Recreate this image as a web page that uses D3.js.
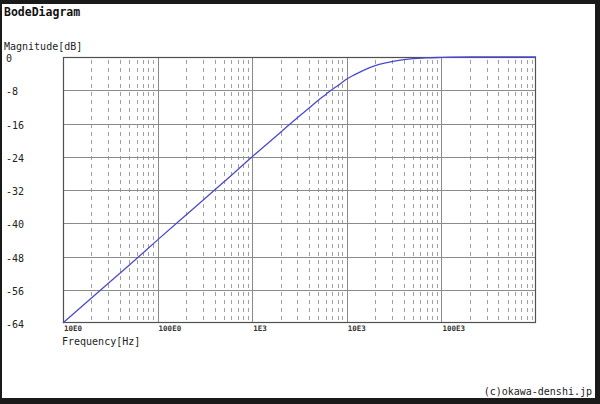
<!DOCTYPE html>
<html><head><meta charset="utf-8">
<script src="https://cdn.jsdelivr.net/npm/d3@7/dist/d3.min.js"></script>
<style>body{margin:0;background:#fff}svg{display:block}</style>
</head><body>
<script>
// Data
const freqs = [10, 20, 50, 100, 200, 500, 1000, 2000, 3000, 4000, 5000, 6000, 7000, 8000, 10000, 12000, 15000, 20000, 25000, 30000, 40000, 50000, 70000, 100000, 200000, 500000, 1000000];
const magnitude = [-64.0, -58.0, -50.1, -44.0, -38.0, -30.1, -24.0, -18.1, -14.6, -12.3, -10.4, -9.0, -7.8, -6.9, -5.3, -4.3, -3.2, -2.1, -1.5, -1.1, -0.65, -0.4, -0.2, -0.1, 0, 0, 0];
const yTicks = [0, -8, -16, -24, -32, -40, -48, -56, -64];
const xTickValues = [10, 100, 1000, 10000, 100000];
const xTickLabels = ["10E0", "100E0", "1E3", "10E3", "100E3"];

const W = 600, H = 404;
const svg = d3.select("body").append("svg").attr("width", W).attr("height", H);
// dark frame
svg.append("rect").attr("x",0).attr("y",0).attr("width",W).attr("height",H).attr("fill","#1a1a1a");
svg.append("rect").attr("x",2).attr("y",4).attr("width",593).attr("height",394).attr("fill","#fff");

const L = 63, R = 536, T = 57, B = 323;
const x = d3.scaleLog().domain([10, 1000000]).range([L, R]);
const y = d3.scaleLinear().domain([-64, 0]).range([B, T]);

const mono = "'DejaVu Sans Mono', 'Liberation Mono', monospace";

// minor dashed gridlines
const minors = [];
for (let d = 10; d < 1000000; d *= 10) for (let k = 2; k <= 9; k++) minors.push(d * k);
svg.append("g").selectAll("line").data(minors).join("line")
  .attr("x1", d => Math.round(x(d)) + 0.5).attr("x2", d => Math.round(x(d)) + 0.5)
  .attr("y1", T).attr("y2", B)
  .attr("stroke", "#a0a0a0").attr("stroke-width", 1).attr("stroke-dasharray", "4,4").attr("stroke-dashoffset", -3);

// major vertical gridlines
svg.append("g").selectAll("line").data(xTickValues.slice(1)).join("line")
  .attr("x1", d => Math.round(x(d)) + 0.5).attr("x2", d => Math.round(x(d)) + 0.5)
  .attr("y1", T).attr("y2", B).attr("stroke", "#8a8a8a").attr("stroke-width", 1);
// horizontal gridlines
svg.append("g").selectAll("line").data(yTicks.slice(1, -1)).join("line")
  .attr("x1", L).attr("x2", R)
  .attr("y1", d => Math.round(y(d)) + 0.5).attr("y2", d => Math.round(y(d)) + 0.5)
  .attr("stroke", "#8a8a8a").attr("stroke-width", 1);

// plot border
svg.append("rect").attr("x", L + 0.5).attr("y", T + 0.5).attr("width", R - L - 1).attr("height", B - T - 1)
  .attr("fill", "none").attr("stroke", "#505050").attr("stroke-width", 1.2);

// curve
const line = d3.line().x((d, i) => x(freqs[i])).y(d => y(d)).curve(d3.curveMonotoneX);
svg.append("path").datum(magnitude).attr("d", line)
  .attr("fill", "none").attr("stroke", "#4a4acc").attr("stroke-width", 1.3);

// y tick labels
svg.append("g").selectAll("text").data(yTicks).join("text")
  .attr("x", 6).attr("y", d => y(d) + 5)
  .attr("font-family", mono).attr("font-size", 10).attr("fill", "#222")
  .text(d => d);

// x tick labels
svg.append("g").selectAll("text").data(xTickValues).join("text")
  .attr("x", d => x(d) + 1).attr("y", B + 8)
  .attr("font-family", mono).attr("font-size", 7.5).attr("font-weight", "bold").attr("fill", "#333")
  .text((d, i) => xTickLabels[i]);

svg.append("text").attr("x", 4).attr("y", 16).attr("font-family", mono).attr("font-size", 11.5)
  .attr("font-weight", "bold").attr("fill", "#111").text("BodeDiagram");
svg.append("text").attr("x", 4).attr("y", 50).attr("font-family", mono).attr("font-size", 10)
  .attr("fill", "#222").text("Magnitude[dB]");
svg.append("text").attr("x", 62).attr("y", 345).attr("font-family", mono).attr("font-size", 10)
  .attr("fill", "#222").text("Frequency[Hz]");
svg.append("text").attr("x", 592).attr("y", 395).attr("text-anchor", "end").attr("font-family", mono)
  .attr("font-size", 10).attr("fill", "#222").text("(c)okawa-denshi.jp");
</script>
</body></html>
